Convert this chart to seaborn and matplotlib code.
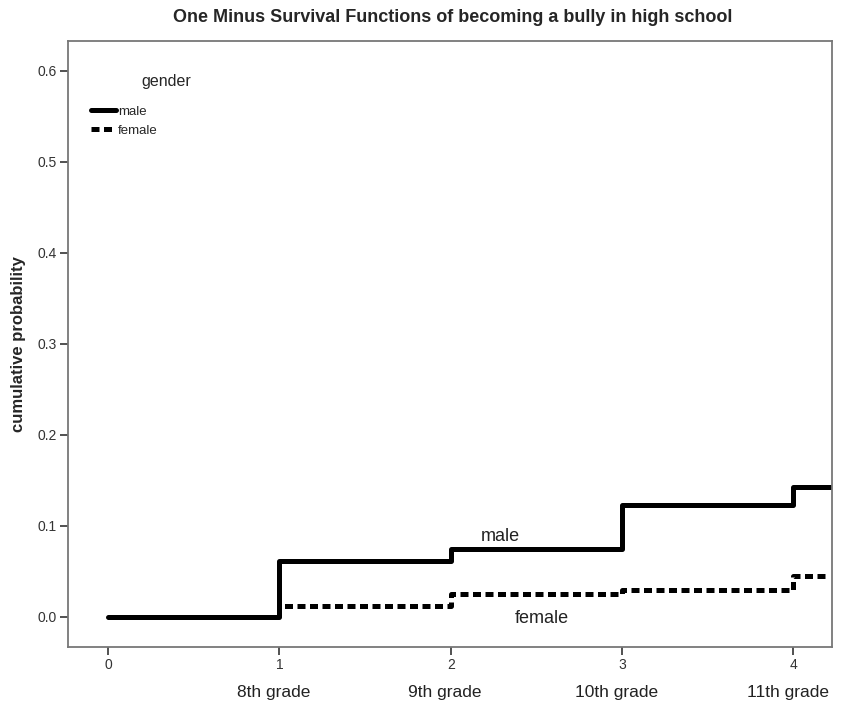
import matplotlib
matplotlib.use("Agg")
import matplotlib.pyplot as plt
import seaborn as sns
import pandas as pd
from matplotlib.lines import Line2D

sns.set_theme(style="white")
plt.rcParams['font.family'] = ['Liberation Sans Narrow', 'Liberation Sans', 'DejaVu Sans']

time_male = [0, 1, 2, 3, 4, 4.23]
prob_male = [0.0, 0.061, 0.075, 0.123, 0.143, 0.143]
time_female = [0, 1, 2, 3, 4, 4.19]
prob_female = [0.0, 0.012, 0.025, 0.030, 0.045, 0.045]
tick_numbers = ["0", "1", "2", "3", "4"]
grade_labels = ["", "8th grade", "9th grade", "10th grade", "11th grade"]

df = pd.concat([
    pd.DataFrame({"time": time_male, "prob": prob_male, "gender": "male"}),
    pd.DataFrame({"time": time_female, "prob": prob_female, "gender": "female"}),
])

fig = plt.figure(figsize=(8.43, 7.15), dpi=100)
ax = fig.add_axes([0.0807, 0.0951, 0.9063, 0.8476])

for g, ls in [("male", "-"), ("female", (0, (1.6, 0.9)))]:
    sub = df[df.gender == g]
    sns.lineplot(data=sub, x="time", y="prob", ax=ax, color="black",
                 linewidth=3.6, drawstyle="steps-post", linestyle=ls,
                 legend=False, estimator=None, sort=False)

ax.set_xlim(-0.233, 4.225)
ax.set_ylim(-0.033, 0.633)
ax.set_yticks([0.0, 0.1, 0.2, 0.3, 0.4, 0.5, 0.6])
ax.set_yticklabels(["0.0", "0.1", "0.2", "0.3", "0.4", "0.5", "0.6"], fontsize=10, color="#333333")
ax.set_xticks(range(5))
ax.set_xticklabels(tick_numbers, fontsize=10, color="#333333")
for i, lab in enumerate(grade_labels):
    if lab:
        ax.annotate(lab, xy=(i, 0), xycoords=("data", "axes fraction"),
                    xytext=(-4, -27), textcoords="offset points",
                    ha="center", va="top", fontsize=12.5, color="#222222")

ax.tick_params(axis="both", which="both", direction="out", length=6, width=1.2,
               color="#333333", left=True, bottom=True, pad=2)
for s in ax.spines.values():
    s.set_color("#777777")
    s.set_linewidth(1.3)

ax.set_xlabel("")
ax.set_ylabel("cumulative probability", fontsize=12, fontweight="bold",
              family=['Liberation Sans', 'DejaVu Sans'], labelpad=8)
fig.suptitle("One Minus Survival Functions of becoming a bully in high school",
             x=0.537, y=0.987, fontsize=13, fontweight="bold",
             family=['Liberation Sans', 'DejaVu Sans'])

ax.text(2.29, 0.088, "male", fontsize=13, ha="center", va="center", color="#222222")
ax.text(2.53, -0.002, "female", fontsize=13, ha="center", va="center", color="#222222")

handles = [Line2D([], [], color="black", lw=3.6, ls="-"),
           Line2D([], [], color="black", lw=3.6, ls=(0, (1.6, 0.9)))]
leg = ax.legend(handles, ["male", "female"], title="gender", loc="upper left",
                bbox_to_anchor=(0.015, 0.965), frameon=False, fontsize=9.5,
                title_fontsize=11.5, handlelength=1.9, handletextpad=0.1,
                labelspacing=0.5)
leg._legend_box.align = "left"
leg._legend_box.sep = 12
leg.get_title().set_position((50, 0))

fig.savefig("out.png", dpi=100, facecolor="white")
